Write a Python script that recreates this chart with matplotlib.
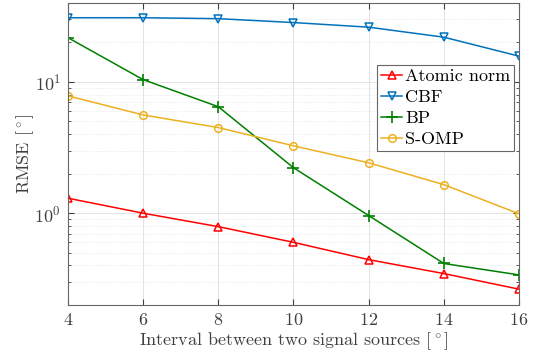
import matplotlib
matplotlib.use('Agg')
import matplotlib.pyplot as plt
import numpy as np

plt.rcParams['font.family'] = 'serif'
plt.rcParams['font.serif'] = ['cmr10']
plt.rcParams['mathtext.fontset'] = 'cm'
plt.rcParams['axes.formatter.use_mathtext'] = True

interval = [4, 6, 8, 10, 12, 14, 16]
atomic = [1.30, 1.00, 0.79, 0.60, 0.443, 0.347, 0.264]
cbf = [30.8, 30.8, 30.3, 28.3, 26.1, 21.9, 15.7]
bp = [21.7, 10.4, 6.47, 2.22, 0.96, 0.414, 0.339]
somp = [7.83, 5.6, 4.49, 3.26, 2.42, 1.65, 0.99]

c_red = (1, 0, 0)
c_blue = (0, 0.447, 0.741)
c_green = (0, 0.5, 0)
c_yel = (0.929, 0.694, 0.125)

fig = plt.figure(figsize=(5.44, 3.53), dpi=100)
ax = fig.add_axes([0.125, 0.136, 0.829, 0.856])

ax.plot(interval, atomic, '-^', color=c_red, mfc='none', ms=6, mew=1.1, lw=1.1, label='Atomic norm')
ax.plot(interval, cbf, '-v', color=c_blue, mfc='none', ms=6, mew=1.1, lw=1.1, label='CBF')
ax.plot(interval, bp, '-+', color=c_green, ms=8, mew=1.2, lw=1.1, label='BP')
ax.plot(interval, somp, '-o', color=c_yel, mfc='none', ms=5.5, mew=1.1, lw=1.1, label='S-OMP')

ax.set_yscale('log')
ax.set_xlim(4, 16)
ax.set_ylim(0.2, 40)
ax.set_xticks([4, 6, 8, 10, 12, 14, 16])

ax.grid(True, which='major', color=(0.87, 0.87, 0.87), lw=0.6)
ax.grid(True, which='minor', color=(0.87, 0.87, 0.87), lw=0.5, ls=':')
ax.set_axisbelow(True)

for s in ax.spines.values():
    s.set_color((0.4, 0.4, 0.4))
    s.set_linewidth(0.8)
ax.tick_params(which='both', direction='in', top=True, right=True, colors=(0.25, 0.25, 0.25), labelsize=13)
ax.tick_params(which='major', length=4, pad=5)
ax.tick_params(which='minor', length=2.5)

ax.set_xlabel(r'Interval between two signal sources $[^\circ]$', fontsize=13, color=(0.25, 0.25, 0.25), labelpad=2)
ax.set_ylabel(r'RMSE $[^\circ]$', fontsize=13, color=(0.25, 0.25, 0.25), labelpad=-1)

leg = ax.legend(loc='upper right', bbox_to_anchor=(0.989, 0.795), fontsize=13, fancybox=False,
                framealpha=1, edgecolor=(0.4, 0.4, 0.4), handlelength=1.2, handletextpad=0.15,
                borderpad=0.2, labelspacing=0.3, borderaxespad=0)
leg.get_frame().set_linewidth(0.8)

fig.savefig('out.png', dpi=100)
